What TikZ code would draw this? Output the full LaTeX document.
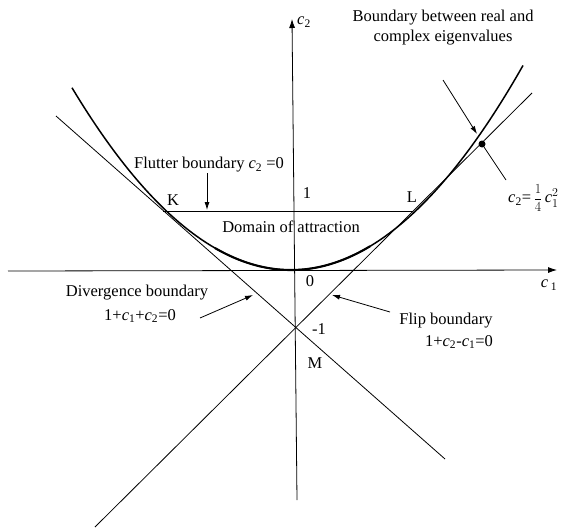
\documentclass[tikz,border=0pt]{standalone}
\usepackage{fontspec}
\setmainfont{Liberation Serif}
\usetikzlibrary{arrows.meta}
\begin{document}
\begin{tikzpicture}[x=1pt,y=-1pt,
  thinline/.style={line width=0.8pt},
  curve/.style={line width=1.5pt},
  lbl/.style={font=\fontsize{16.5}{20}\selectfont, inner sep=0pt},
  pointer/.style={line width=0.8pt,-{Latex[length=8pt,width=5pt]}},
  axis/.style={line width=0.8pt,-{Latex[length=9pt,width=6pt]}}]
\useasboundingbox (0,0) rectangle (572,527);
% key points
\coordinate (O) at (294,271);
\coordinate (K) at (163,211);
\coordinate (L) at (413,211);
\coordinate (M) at (295,328);
% axes
\coordinate (xl) at (8,271);
\coordinate (xr) at (557,270);
\coordinate (yb) at (297,500);
\coordinate (yt) at (292,19);
\draw[axis] (xl) -- (xr);
\draw[axis] (yb) -- (yt);
% boundary lines
\coordinate (d1) at (56,116);
\coordinate (d2) at (445,459);
\coordinate (f1) at (532,93);
\coordinate (f2) at (95,527);
\draw[thinline] (d1) -- (d2);
\draw[thinline] (f1) -- (f2);
\draw[thinline] (K) -- (L);
% parabola
\draw[curve] plot[domain=72:523,samples=150] (\x,{270-0.38*((\x-291)/10)^2});
\draw[line width=2.1pt] plot[domain=215:370,samples=60] (\x,{270-0.38*((\x-291)/10)^2});
% dot and pointers
\coordinate (dot) at (482,144);
\fill (dot) circle (3.5pt);
\coordinate (ba) at (443,80);
\coordinate (bt) at (477,134);
\draw[pointer] (ba) -- (bt);
\coordinate (lead) at (506,180);
\draw[thinline] (dot) -- (lead);
% labels
\node[lbl,anchor=west] (c2lab) at (297,22) {\textit{c}\textsubscript{2}};
\node[lbl,align=center] (bnd) at (443,28) {Boundary between real and\\complex eigenvalues};
\node[lbl,anchor=west] (eq) at (508,198) {\textit{c}\textsubscript{2}=\,\raisebox{0.5pt}{\scalebox{0.8}{$\displaystyle\frac{1}{4}$}}\,\textit{c}$^{2}_{1}$};
\node[lbl] (Klab) at (173,200) {K};
\node[lbl] (Llab) at (412,197) {L};
\node[lbl] (one) at (307,193) {1};
\node[lbl] (flut) at (209,165) {Flutter boundary \textit{c}\textsubscript{2} =0};
\coordinate (fa) at (207,173);
\coordinate (fb) at (207,210);
\draw[pointer] (fa) -- (fb);
\node[lbl] (dom) at (291,227) {Domain of attraction};
\node[lbl] (zero) at (310,281) {0};
\node[lbl] (c1lab) at (549,285) {\textit{c}\,\textsubscript{1}};
\node[lbl] (div) at (137,293) {Divergence boundary};
\node[lbl] (diveq) at (140,316) {1+\textit{c}\textsubscript{1}+\textit{c}\textsubscript{2}=0};
\coordinate (da) at (200,318);
\coordinate (db) at (253,295);
\draw[pointer] (da) -- (db);
\node[lbl] (flip) at (446,321) {Flip boundary};
\node[lbl] (flipeq) at (459,342) {1+\textit{c}\textsubscript{2}-\textit{c}\textsubscript{1}=0};
\coordinate (fla) at (390,312);
\coordinate (flb) at (332,295);
\draw[pointer] (fla) -- (flb);
\node[lbl] (m1) at (319,329) {-1};
\node[lbl] (Mlab) at (315,363) {M};
\end{tikzpicture}
\end{document}
